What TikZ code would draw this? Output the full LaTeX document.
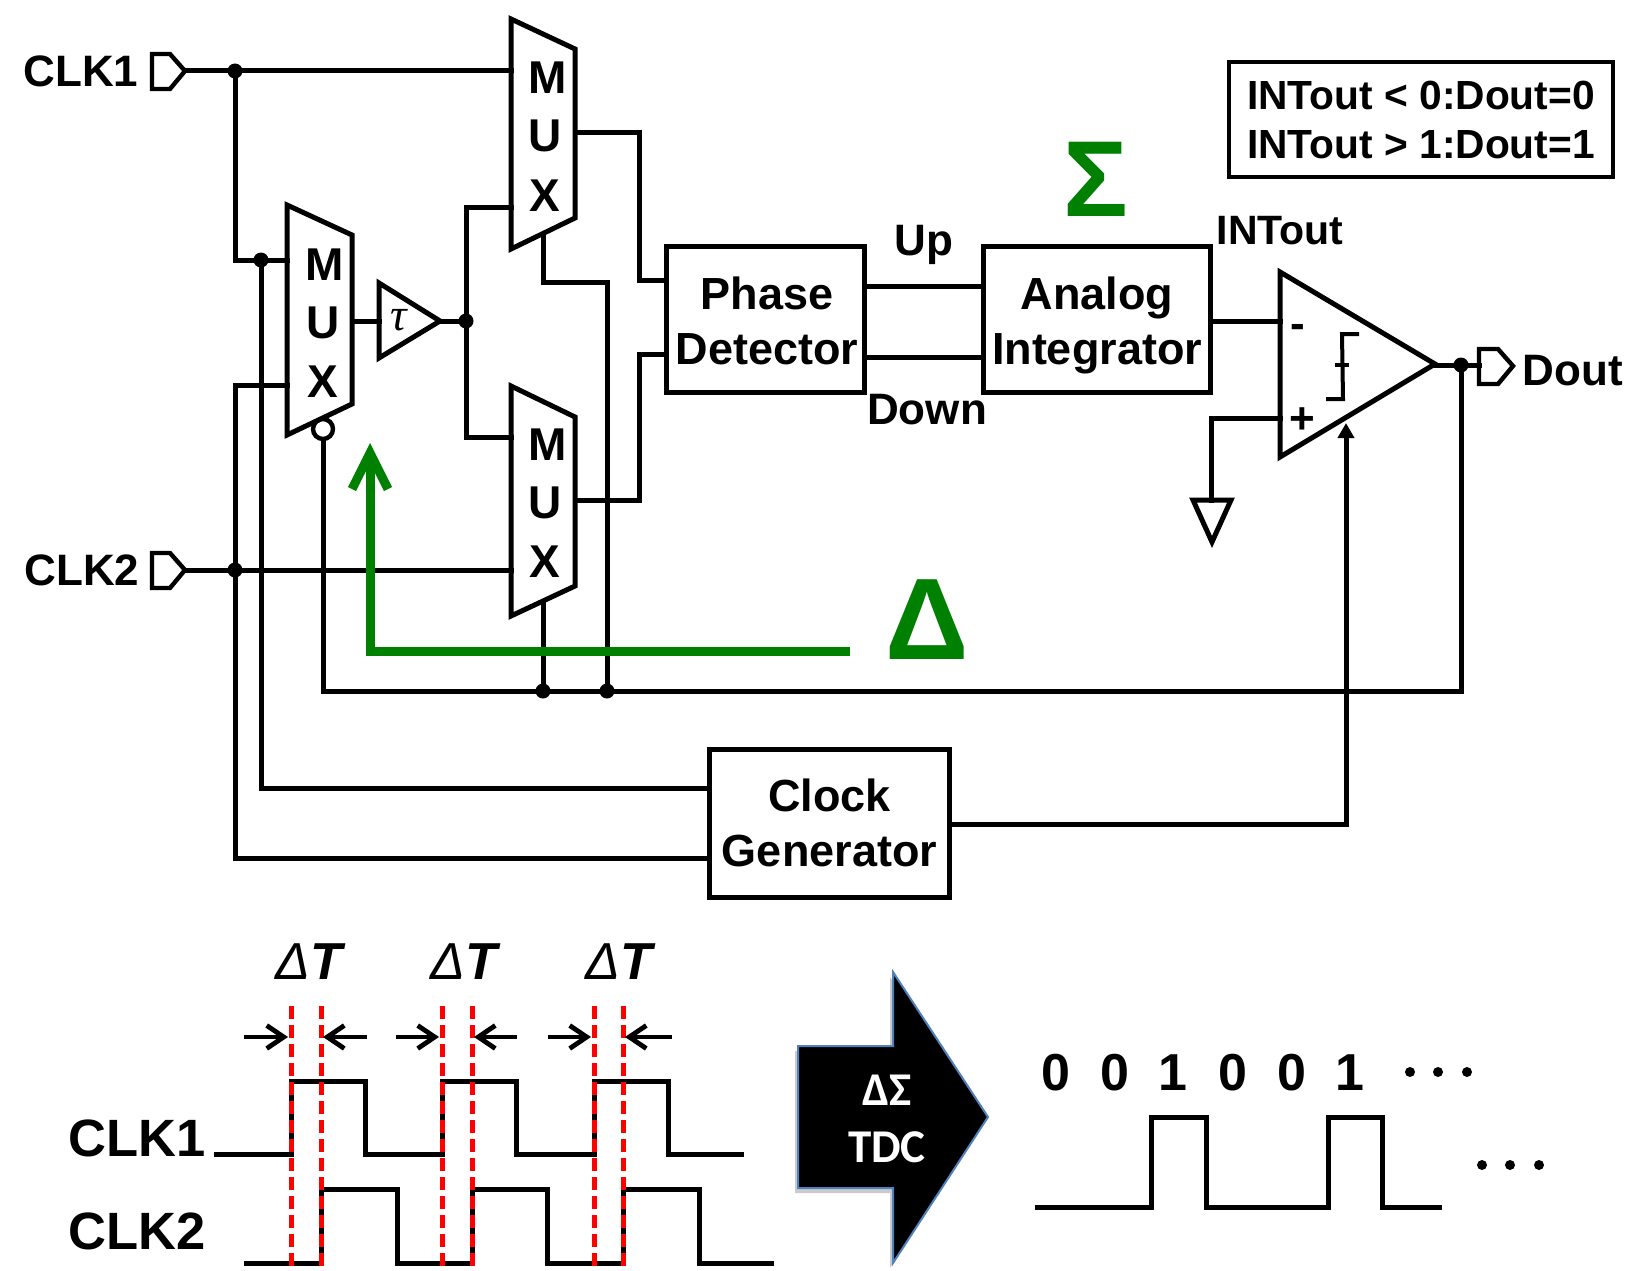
\documentclass[tikz,border=0pt]{standalone}
\usepackage{fontspec}
\setmainfont{Liberation Sans}
\newfontfamily\serifit{Liberation Serif}
\newfontfamily\carl{Carlito}
\usetikzlibrary{arrows.meta}
\newcommand{\fsz}[1]{\fontsize{#1}{#1}\selectfont}
\newcommand{\fszl}[2]{\fontsize{#1}{#2}\selectfont}
\definecolor{dgreen}{RGB}{0,128,0}
\definecolor{edgeblue}{RGB}{79,129,189}
\tikzset{
  wire/.style={line width=5pt,line join=miter,line cap=rect},
  shape line/.style={line width=5pt,line join=miter},
  blockbox/.style={draw,line width=5pt,inner sep=0pt,align=center,font=\bfseries\fszl{45}{55}},
  blocktext/.style={inner sep=0pt,align=center,font=\bfseries\fszl{45}{55}},
  lbl/.style={inner sep=0pt,font=\bfseries\fsz{#1}},
  lbl/.default=44,
  muxl/.style={inner sep=0pt,font=\bfseries\fsz{46}},
  jdot/.style={circle,fill=black,inner sep=0pt,minimum size=15pt},
  wave/.style={line width=5pt,line join=miter},
  redline/.style={red,line width=5pt,dash pattern=on 12.5pt off 6.5pt},
  gapar/.style={line width=4.8pt,-{Straight Barb[length=17pt,width=23pt,line width=4.8pt]}},
  dt/.style={inner sep=0pt,font=\fsz{52}},
  bitl/.style={inner sep=0pt,font=\bfseries\fsz{52}},
  elip/.style={circle,fill=black,inner sep=0pt,minimum size=10pt},
}
\begin{document}
\begin{tikzpicture}[x=1pt,y=-1pt]
\useasboundingbox (0,0) rectangle (1626,1271);
\fill[white] (0,0) rectangle (1626,1271);
% blocks
\node[blockbox,minimum width=198pt,minimum height=146pt] (pd) at (765,319) {};
\node[blocktext] (pdt) at (767,320.5) {Phase\\Detector};
\node[blockbox,minimum width=227pt,minimum height=146pt] (ai) at (1097,319) {};
\node[blocktext] (ait) at (1097,325) {Analog\\Integrator};
\node[blockbox,minimum width=240pt,minimum height=148pt] (cg) at (829.5,823) {Clock\\Generator};
\node[draw,line width=4pt,inner sep=0pt,minimum width=384pt,minimum height=115pt,align=center,font=\bfseries\fszl{40.7}{49}] (legend) at (1421,119.5) {INTout < 0:Dout=0\\INTout > 1:Dout=1};
% mux shapes
\draw[shape line] (511,19)--(575,49)--(575,218)--(511,249)--cycle;
\draw[shape line] (511,386)--(575,417)--(575,586)--(511,616)--cycle;
\draw[shape line] (287,205)--(352,235)--(352,404)--(287,435)--cycle;
\node[muxl] (tm) at (548,78) {M}; \node[muxl] (tu) at (545,136) {U}; \node[muxl] (tx) at (545,196) {X};
\node[muxl] (bm) at (548,445) {M}; \node[muxl] (bu) at (545,503) {U}; \node[muxl] (bx) at (545,562) {X};
\node[muxl] (lm) at (325,265) {M}; \node[muxl] (lu) at (323,323) {U}; \node[muxl] (lx) at (323,382) {X};
% buffer
\draw[shape line] (379,283)--(440,321)--(379,358)--cycle;
\node[inner sep=0pt,font=\serifit\itshape\fsz{46}] (tau) at (399,320) {τ};
\coordinate (bufin) at (379,321); \coordinate (bufout) at (440,321);
% pins
\draw[line width=4.4pt,line join=miter] (152,54)--(170,54)--(185,71)--(170,89)--(152,89)--cycle;
\draw[line width=4.4pt,line join=miter] (152,553)--(170,553)--(185,570)--(170,588)--(152,588)--cycle;
\draw[line width=4.4pt,line join=miter] (1479,349)--(1498,349)--(1513,366)--(1498,384)--(1479,384)--cycle;
\coordinate (p1) at (185,71); \coordinate (p2) at (185,570); \coordinate (p3) at (1479,365);
\node[lbl=44] (clk1) at (81,71) {CLK1};
\node[lbl=44] (clk2) at (82,570) {CLK2};
\node[lbl] (dout) at (1573,371) {Dout};
% comparator
\draw[shape line] (1280,272)--(1435,364)--(1280,457)--cycle;
\coordinate (cmpout) at (1435,365);
\node[lbl=44] (minus) at (1298,331) {-};
\node[lbl=44] (plus) at (1302,421) {+};
\draw[line width=4pt,line join=miter] (1359,334)--(1342,334)--(1343,399)--(1326,399);
\draw[line width=4pt] (1335,365)--(1349,365);
% ground
\draw[shape line] (1193,500)--(1231,500)--(1212,542)--cycle;
% bubble
\node[draw,circle,line width=4.4pt,inner sep=0pt,minimum size=20pt] (bub) at (323,429) {};
% junctions
\node[jdot] (j1) at (235,71) {};
\node[jdot] (j2) at (261,260) {};
\node[jdot] (j3) at (235,570) {};
\node[jdot] (j4) at (466,321) {};
\node[jdot] (j5) at (543,691) {};
\node[jdot] (j6) at (607,691) {};
\node[jdot] (j7) at (1461,365) {};
\coordinate (tin1) at (511,71); \coordinate (tin2) at (511,207);
\coordinate (bin1) at (511,437); \coordinate (bin2) at (511,570);
\coordinate (lin1) at (287,260); \coordinate (lin2) at (287,385);
\coordinate (tout) at (575,133); \coordinate (bout) at (575,500);
\coordinate (tsel) at (543,234); \coordinate (bsel) at (543,601);
\coordinate (pdu) at (665,280); \coordinate (pdd) at (665,354);
% wires
\draw[wire] (p1)--(j1)--(tin1);
\draw[wire] (j1)--(235,260)--(j2)--(lin1);
\draw[wire] (j2)--(261,788)--(cg.west |- 0,788);
\draw[wire] (lin2)--(235,385)--(j3)--(235,858)--(cg.west |- 0,858);
\draw[wire] (p2)--(j3)--(bin2);
\draw[wire] (352,321)--(bufin);
\draw[wire] (bufout)--(j4);
\draw[wire] (tin2)--(466,207)--(j4)--(466,437)--(bin1);
\draw[wire] (tout)--(639,133)--(639,280)--(pdu);
\draw[wire] (bout)--(639,500)--(639,354)--(pdd);
\draw[wire] (tsel)--(543,282)--(607,282)--(j6);
\draw[wire] (bsel)--(j5);
\draw[wire] (bub)--(323,691)--(j5)--(j6)--(1461,691)--(j7);
\draw[wire] (cmpout)--(j7)--(p3);
\draw[wire] (pd.east |- 0,286)--(ai.west |- 0,286);
\draw[wire] (pd.east |- 0,357)--(ai.west |- 0,357);
\draw[wire] (ai.east |- 0,321)--(1280,321);
\draw[wire] (1280,418)--(1211,418)--(1211,500);
\draw[wire] (cg.east |- 0,824)--(1346,824);
\draw[line width=5pt,-{Triangle[length=15pt,width=16pt]}] (1346,824)--(1346,423);
% labels
\node[lbl] (up) at (924,245) {Up};
\node[lbl] (down) at (927,410) {Down};
\node[lbl=41] (into) at (1280,231) {INTout};
% green
\draw[dgreen,line width=9pt,line join=miter,-{Straight Barb[length=36pt,width=36pt,line width=9pt]}] (850,651)--(370,651)--(370,443);
\node[inner sep=0pt,text=dgreen,font=\bfseries\fsz{116}] (delta) at (927,620) {Δ};
\node[inner sep=0pt,text=dgreen,font=\bfseries\fsz{108}] (sigma) at (1096,179) {Σ};
% timing
\node[dt] (dt1) at (309,962) {{\itshape Δ}{\bfseries\itshape T}};
\node[dt] (dt2) at (464,962) {{\itshape Δ}{\bfseries\itshape T}};
\node[dt] (dt3) at (619,962) {{\itshape Δ}{\bfseries\itshape T}};
\node[lbl=52.5] (tclk1) at (137,1138) {CLK1};
\node[lbl=52.5] (tclk2) at (137,1231) {CLK2};
\draw[wave] (214,1154)--(291,1154)--(291,1081)--(365,1081)--(365,1154)--(442,1154)--(442,1081)--(516,1081)--(516,1154)--(594,1154)--(594,1081)--(668,1081)--(668,1154)--(744,1154);
\draw[wave] (244,1263)--(321,1263)--(321,1189)--(397,1189)--(397,1263)--(472,1263)--(472,1189)--(547,1189)--(547,1263)--(623,1263)--(623,1189)--(699,1189)--(699,1263)--(774,1263);
\foreach \xa in {291,321,442,472,594,623}{\draw[redline] (\xa,1006)--(\xa,1268);}
\coordinate (g1) at (288,1037); \coordinate (g2) at (323,1037);
\coordinate (g3) at (439,1037); \coordinate (g4) at (474,1037);
\coordinate (g5) at (591,1037); \coordinate (g6) at (625,1037);
\draw[gapar] (244,1037)--(g1); \draw[gapar] (367,1037)--(g2);
\draw[gapar] (396,1037)--(g3); \draw[gapar] (517,1037)--(g4);
\draw[gapar] (548,1037)--(g5); \draw[gapar] (672,1037)--(g6);
% big arrow
\fill[black!45,opacity=.45] (795,1051)--(890,1051)--(890,977)--(985,1122)--(890,1268)--(890,1193)--(795,1193)--cycle;
\draw[edgeblue,line width=2pt,fill=black,line join=miter] (798,1046)--(893,1046)--(893,972)--(988,1117)--(893,1263)--(893,1188)--(798,1188)--cycle;
\node[inner sep=0pt,text=white,font=\carl\bfseries\fsz{47}] (ds) at (887,1090) {ΔΣ};
\node[inner sep=0pt,text=white,font=\carl\bfseries\fsz{47}] (tdc) at (887,1147) {TDC};
% bits
\node[bitl] (b1) at (1056,1073) {0};
\node[bitl] (b2) at (1115,1073) {0};
\node[bitl] (b3) at (1173,1073) {1};
\node[bitl] (b4) at (1233,1073) {0};
\node[bitl] (b5) at (1292,1073) {0};
\node[bitl] (b6) at (1350,1073) {1};
\node[elip] (e1) at (1410,1072) {}; \node[elip] (e2) at (1438,1072) {}; \node[elip] (e3) at (1467,1072) {};
\node[elip] (e4) at (1482,1165) {}; \node[elip] (e5) at (1510,1165) {}; \node[elip] (e6) at (1539,1165) {};
\draw[wave] (1035,1207)--(1151,1207)--(1151,1117)--(1206,1117)--(1206,1207)--(1328,1207)--(1328,1117)--(1382,1117)--(1382,1207)--(1442,1207);
\end{tikzpicture}
\end{document}
